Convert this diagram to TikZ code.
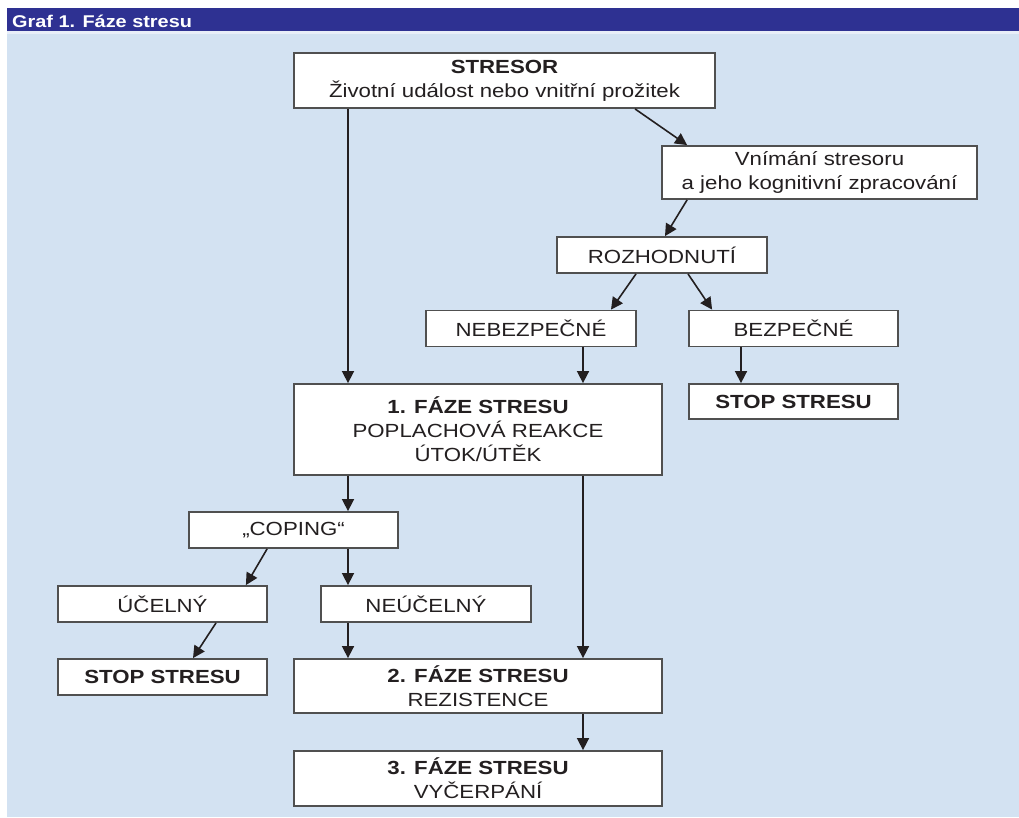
\documentclass[tikz,border=0pt]{standalone}
\usepackage{fontspec}
\setmainfont[FakeStretch=1.17]{Liberation Sans}
\usetikzlibrary{arrows.meta}
\definecolor{hdrblue}{RGB}{46,49,146}
\definecolor{bgblue}{RGB}{211,226,242}
\definecolor{stripe}{RGB}{232,238,248}
\definecolor{boxline}{RGB}{80,80,80}
\definecolor{txt}{RGB}{35,31,32}
\tikzset{
  box/.style={draw=boxline, fill=white, line width=1.8pt, inner sep=0pt,
    align=center, text=txt, font=\fontsize{19}{24}\selectfont},
  arr/.style={draw=txt, line width=1.6pt, -{Triangle[length=12pt,width=12pt]}},
}
\begin{document}
\begin{tikzpicture}[x=1pt,y=-1pt]
\useasboundingbox (0,0) rectangle (1019,817);
% background
\fill[bgblue] (7,34) rectangle (1019,817);
\fill[hdrblue] (7,8) rectangle (1019,31);
\fill[stripe] (7,31) rectangle (1019,34);
\node[anchor=base west, text=white, inner sep=0pt,
  font=\fontsize{17}{20}\selectfont\bfseries] (title) at (12,27) {Graf 1. Fáze stresu};
% helper x positions
\coordinate (xa) at (348,0);
\coordinate (xb) at (583,0);
\coordinate (xc) at (741,0);
% boxes
\node[box, minimum width=421pt, minimum height=55pt] (stresor) at (504.5,80.5)
  {\textbf{STRESOR}\\Životní událost nebo vnitřní prožitek};
\node[box, minimum width=315pt, minimum height=53pt] (vnimani) at (819.5,172.5)
  {Vnímání stresoru\\a jeho kognitivní zpracování};
\node[box, minimum width=210pt, minimum height=36pt] (rozh) at (662,255) {ROZHODNUTÍ};
\node[box, minimum width=210pt, minimum height=36pt] (nebez) at (531,328.5) {NEBEZPEČNÉ};
\node[box, minimum width=209pt, minimum height=36pt] (bez) at (793.5,328.5) {BEZPEČNÉ};
\node[box, minimum width=209pt, minimum height=35pt] (stopa) at (793.5,401.5) {\textbf{STOP STRESU}};
\node[box, minimum width=368pt, minimum height=91pt] (faze1) at (478,429.5)
  {\textbf{1. FÁZE STRESU}\\POPLACHOVÁ REAKCE\\ÚTOK/ÚTĚK};
\node[box, minimum width=209pt, minimum height=36pt] (coping) at (293.5,530) {„COPING“};
\node[box, minimum width=209pt, minimum height=36pt] (ucel) at (162.5,604) {ÚČELNÝ};
\node[box, minimum width=210pt, minimum height=36pt] (neucel) at (426,604) {NEÚČELNÝ};
\node[box, minimum width=209pt, minimum height=36pt] (stopb) at (162.5,677) {\textbf{STOP STRESU}};
\node[box, minimum width=368pt, minimum height=54pt] (faze2) at (478,686)
  {\textbf{2. FÁZE STRESU}\\REZISTENCE};
\node[box, minimum width=368pt, minimum height=55pt] (faze3) at (478,778.5)
  {\textbf{3. FÁZE STRESU}\\VYČERPÁNÍ};
% connectors
\draw[arr] (stresor.south -| xa) -- (faze1.north -| xa);
\draw[arr] ([xshift=130.5pt]stresor.south) -- ([xshift=26pt]vnimani.north west);
\draw[arr] ([xshift=26pt]vnimani.south west) -- ([xshift=3pt]rozh.north);
\draw[arr] ([xshift=-26pt]rozh.south) -- ([xshift=80pt]nebez.north);
\draw[arr] ([xshift=26pt]rozh.south) -- ([xshift=24pt]bez.north west);
\draw[arr] (nebez.south -| xb) -- (faze1.north -| xb);
\draw[arr] (bez.south -| xc) -- (stopa.north -| xc);
\draw[arr] (faze1.south -| xa) -- (coping.north -| xa);
\draw[arr] (faze1.south -| xb) -- (faze2.north -| xb);
\draw[arr] ([xshift=79pt]coping.south west) -- ([xshift=-22pt]ucel.north east);
\draw[arr] (coping.south -| xa) -- (neucel.north -| xa);
\draw[arr] ([xshift=53.5pt]ucel.south) -- ([xshift=30.5pt]stopb.north);
\draw[arr] (neucel.south -| xa) -- (faze2.north -| xa);
\draw[arr] (faze2.south -| xb) -- (faze3.north -| xb);
\end{tikzpicture}
\end{document}
